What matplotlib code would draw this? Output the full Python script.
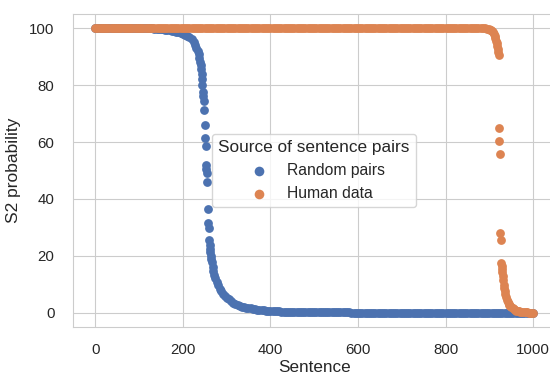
import matplotlib
matplotlib.use('Agg')
import matplotlib.pyplot as plt
import seaborn as sns

sns.set_style('whitegrid')
plt.rcParams['font.family'] = ['Liberation Sans', 'DejaVu Sans']

# 句子序号 (每5个取一个)
sentence_ids = [
    0, 5, 10, 15, 20, 25, 30, 35, 40, 45, 50, 55, 60, 65, 70, 75, 80, 85, 90, 95,
    100, 105, 110, 115, 120, 125, 130, 135, 140, 145, 150, 155, 160, 165, 170, 175, 180, 185, 190, 195,
    200, 205, 210, 215, 220, 225, 230, 235, 240, 245, 250, 255, 260, 265, 270, 275, 280, 285, 290, 295,
    300, 305, 310, 315, 320, 325, 330, 335, 340, 345, 350, 355, 360, 365, 370, 375, 380, 385, 390, 395,
    400, 405, 410, 415, 420, 425, 430, 435, 440, 445, 450, 455, 460, 465, 470, 475, 480, 485, 490, 495,
    500, 505, 510, 515, 520, 525, 530, 535, 540, 545, 550, 555, 560, 565, 570, 575, 580, 585, 590, 595,
    600, 605, 610, 615, 620, 625, 630, 635, 640, 645, 650, 655, 660, 665, 670, 675, 680, 685, 690, 695,
    700, 705, 710, 715, 720, 725, 730, 735, 740, 745, 750, 755, 760, 765, 770, 775, 780, 785, 790, 795,
    800, 805, 810, 815, 820, 825, 830, 835, 840, 845, 850, 855, 860, 865, 870, 875, 880, 885, 890, 895,
    900, 905, 910, 915, 920, 925, 930, 935, 940, 945, 950, 955, 960, 965, 970, 975, 980, 985, 990, 995,
    1000]

# 随机句对: S2 概率
random_head_y = [100, 100, 100, 100, 100, 100, 100, 100, 100, 100, 100, 100, 100,
                 100, 100, 100, 100, 100, 100, 100, 100, 100, 100, 100, 100, 100]  # 0..125
random_mid_x = [130, 135, 140, 145, 150, 155, 160, 165, 170, 175, 180, 185, 190, 195, 200, 205, 210, 215,
                220, 225, 228, 231, 234, 236, 238, 240, 241, 242, 243, 244, 245, 246, 247, 248, 249, 250,
                251, 252, 253, 254, 255, 256, 257, 258, 259, 260, 261, 262, 263, 264, 265, 266, 268, 270,
                272, 274, 277, 280, 284, 288, 292, 296, 300, 305, 310, 315, 320, 325, 330, 335, 340, 345,
                350, 355, 360, 365, 370, 375, 380, 385, 390, 395, 400, 405, 410, 415, 420, 425, 430, 435,
                440, 445, 450, 455, 460, 465, 470, 475, 480, 485, 490, 495, 500, 505]
random_mid_y = [99.9, 99.85, 99.8, 99.75, 99.7, 99.6, 99.5, 99.35, 99.2, 99.05, 98.9, 98.7, 98.5, 98.25, 98.0, 97.7, 97.3, 96.9,
                96.2, 95.0, 94.2, 93.2, 92.0, 90.8, 89.6, 88.2, 87.0, 85.5, 84.0, 82.3, 80.0, 77.5, 76.1, 74.3, 71.4, 66.1,
                61.4, 58.5, 52.0, 50.5, 49.1, 46.1, 36.4, 31.5, 29.7, 25.6, 23.8, 22.4, 21.2, 20.0, 18.9, 17.9, 16.2, 14.7,
                13.4, 12.2, 10.8, 9.7, 8.5, 7.5, 6.7, 6.0, 5.3, 4.7, 4.1, 3.6, 3.2, 2.8, 2.5, 2.2, 2.0, 1.8,
                1.65, 1.5, 1.35, 1.2, 1.1, 1.0, 0.9, 0.8, 0.75, 0.7, 0.65, 0.6, 0.55, 0.5, 0.45, 0.4, 0.38, 0.35,
                0.32, 0.3, 0.28, 0.26, 0.24, 0.22, 0.2, 0.19, 0.18, 0.16, 0.15, 0.14, 0.13, 0.12]
random_tail_y = [0.12, 0.12, 0.12, 0.12, 0.12,
                 0.1, 0.1, 0.1, 0.1, 0.1, 0.1, 0.1, 0.1, 0.1, 0.1,
                 0.08, 0.08, 0.08, 0.08, 0.08, 0.08, 0.08, 0.08, 0.08, 0.08,
                 0.06, 0.06, 0.06, 0.06, 0.06, 0.06, 0.06, 0.06, 0.06, 0.06,
                 0.05, 0.05, 0.05, 0.05, 0.05, 0.05, 0.05, 0.05, 0.05, 0.05,
                 0.04, 0.04, 0.04, 0.04, 0.04, 0.04, 0.04, 0.04, 0.04, 0.04,
                 0.03, 0.03, 0.03, 0.03, 0.03, 0.03, 0.03, 0.03, 0.03, 0.03,
                 0.02, 0.02, 0.02, 0.02, 0.02, 0.02, 0.02, 0.02, 0.02, 0.02,
                 0.01, 0.01, 0.01, 0.01, 0.01, 0.01, 0.01, 0.01, 0.01, 0.01, 0.01, 0.01, 0.01, 0.01,
                 0.0, 0.0, 0.0, 0.0, 0.0, 0.0, 0.0, 0.0, 0.0, 0.0]  # 510..1000

# 人工数据: S2 概率
human_head_y = [
    100, 100, 100, 100, 100, 100, 100, 100, 100, 100, 100, 100, 100, 100, 100, 100, 100, 100, 100, 100,
    100, 100, 100, 100, 100, 100, 100, 100, 100, 100, 100, 100, 100, 100, 100, 100, 100, 100, 100, 100,
    100, 100, 100, 100, 100, 100, 100, 100, 100, 100, 100, 100, 100, 100, 100, 100, 100, 100, 100, 100,
    100, 100, 100, 100, 100, 100, 100, 100, 100, 100, 100, 100, 100, 100, 100, 100, 100, 100, 100, 100,
    100, 100, 100, 100, 100, 100, 100, 100, 100, 100, 100, 100, 100, 100, 100, 100, 100, 100, 100, 100,
    100, 100, 100, 100, 100, 100, 100, 100, 100, 100, 100, 100, 100, 100, 100, 100, 100, 100, 100, 100,
    100, 100, 100, 100, 100, 100, 100, 100, 100, 100, 100, 100, 100, 100, 100, 100, 100, 100, 100, 100,
    100, 100, 100, 100, 100, 100, 100, 100, 100, 100, 100, 100, 100, 100, 100, 100, 100, 100, 100, 100,
    100, 100, 100, 100, 100, 100, 100, 100, 100, 100, 100, 100, 100, 100, 100, 100, 100]  # 0..880
human_tail_x = [885, 890, 895, 900, 902, 904, 906, 908, 910, 912, 914, 916, 917, 918, 919, 920, 921, 922,
                923, 924, 925, 926, 927, 928, 929, 930, 931, 932, 933, 934, 935, 936, 938, 940, 942, 944,
                946, 948, 950, 953, 956, 959, 962, 965, 968, 971, 975, 979, 983, 987, 991, 995, 1000]
human_tail_y = [99.95, 99.9, 99.8, 99.6, 99.45, 99.2, 98.9, 98.5, 98.0, 97.3, 96.5, 95.5, 94.7, 93.8, 92.8, 91.7, 90.5, 65.0,
                60.2, 55.8, 28.2, 25.6, 17.4, 16.4, 15.4, 14.2, 12.9, 11.4, 9.9, 8.6, 7.5, 6.6, 5.5, 4.6, 3.8, 3.2,
                2.7, 2.3, 2.0, 1.6, 1.2, 0.95, 0.75, 0.6, 0.45, 0.35, 0.27, 0.2, 0.15, 0.11, 0.08, 0.05, 0.03]

random_x = sentence_ids[:26] + random_mid_x + sentence_ids[102:]
random_y = random_head_y + random_mid_y + random_tail_y
human_x = sentence_ids[:177] + human_tail_x
human_y = human_head_y + human_tail_y

labels = ['Random pairs', 'Human data']
colors = sns.color_palette('deep')

fig = plt.figure(figsize=(5.5, 3.74), dpi=100)
ax = fig.add_axes([0.1333, 0.1257, 0.8758, 0.8369])  # 右边被裁掉一点

ax.scatter(random_x, random_y, s=40, color=colors[0], linewidth=0, label=labels[0])
ax.scatter(human_x, human_y, s=40, color=colors[1], linewidth=0, label=labels[1])

ax.set_xlim(-50, 1050)
ax.set_ylim(-5, 105)
ax.set_xticks([0, 200, 400, 600, 800, 1000])
ax.set_yticks([0, 20, 40, 60, 80, 100])
ax.tick_params(axis='x', labelsize=10.8, pad=8, colors='0.15')
ax.tick_params(axis='y', labelsize=10.8, pad=10, colors='0.15')
for s in ax.spines.values():
    s.set_color('0.8')

ax.set_xlabel('Sentence', fontsize=12.3, color='0.15', labelpad=2)
ax.set_ylabel('S2 probability', fontsize=12.5, color='0.15', labelpad=6)

leg = ax.legend(title='Source of sentence pairs', loc='lower left',
                bbox_to_anchor=(0.288, 0.383), borderaxespad=0,
                fontsize=11.3, title_fontsize=12.4, markerscale=1.1)

plt.savefig('out.png', dpi=100)
